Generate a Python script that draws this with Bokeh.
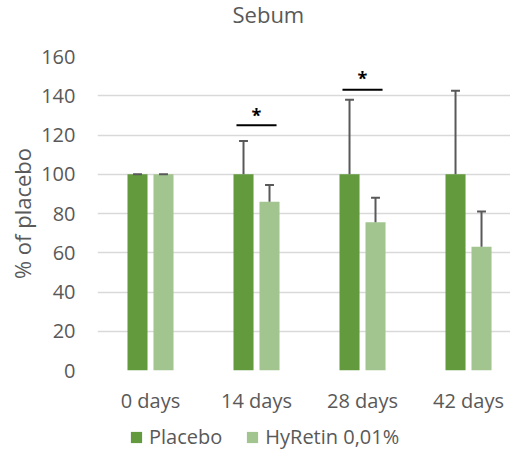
from bokeh.plotting import figure
from bokeh.layouts import column
from bokeh.models import Range1d, ColumnDataSource, Legend, LegendItem, FixedTicker
from bokeh.transform import dodge
from bokeh.core.properties import value
from bokeh.embed import file_html
from bokeh.resources import INLINE

# ---- data ----
title_text = "Sebum"
categories = ["0 days", "14 days", "28 days", "42 days"]
placebo = [100, 100, 100, 100]
placebo_err = [0, 17, 38, 42.5]
hyretin = [100, 86, 75.5, 63]
hyretin_err = [0, 8.5, 12.5, 18]
sig_categories = ["14 days", "28 days"]
sig_line_y = [125, 143]
sig_star_y = [130, 149]
y_ticks = [0, 20, 40, 60, 80, 100, 120, 140, 160]
series_names = ["Placebo", "HyRetin 0,01%"]

FONT = "Open Sans"
TXT = "#595959"
DARK = "#629A3D"
LIGHT = "#A2C48F"

OFF = 0.1226
BW = 0.189
CAP = 0.042
SIGW = 0.189

x_idx = list(range(len(categories)))
src = ColumnDataSource(dict(
    x=x_idx,
    placebo=placebo,
    placebo_top=[v + e for v, e in zip(placebo, placebo_err)],
    hyretin=hyretin,
    hyretin_top=[v + e for v, e in zip(hyretin, hyretin_err)],
))
sig = ColumnDataSource(dict(x=[categories.index(c) for c in sig_categories],
                            line_y=sig_line_y, star_y=sig_star_y,
                            star=["*"] * len(sig_categories)))

# title strip (pixel-scaled ranges so the title sits where the reference has it)
tf = figure(width=510, height=40, output_backend="svg", toolbar_location=None,
            x_range=Range1d(0, 413), y_range=Range1d(0, 40),
            x_axis_type=None, y_axis_type=None,
            min_border_left=97, min_border_right=0, min_border_top=0, min_border_bottom=0)
tf.outline_line_color = None
tf.text(x=[135], y=[27], text=[title_text], text_align="left", text_baseline="alphabetic",
        text_font=value(FONT), text_font_size="22px", text_color=TXT)

p = figure(x_range=Range1d(-0.5, 3.396), y_range=Range1d(0, 160),
           width=510, height=376, output_backend="svg", toolbar_location=None,
           min_border_left=97, min_border_right=0, min_border_top=16, min_border_bottom=45)
p.outline_line_color = None
p.background_fill_color = "white"

# bars
r1 = p.vbar(x=dodge("x", -OFF), top="placebo", bottom=0, width=BW,
            source=src, fill_color=DARK, line_color=None)
r2 = p.vbar(x=dodge("x", OFF), top="hyretin", bottom=0, width=BW,
            source=src, fill_color=LIGHT, line_color=None)

# error bars (upper only)
for off, base, top in [(-OFF, "placebo", "placebo_top"), (OFF, "hyretin", "hyretin_top")]:
    p.segment(x0=dodge("x", off), x1=dodge("x", off),
              y0=base, y1=top, source=src, line_color=TXT, line_width=2)
    p.segment(x0=dodge("x", off - CAP), x1=dodge("x", off + CAP),
              y0=top, y1=top, source=src, line_color=TXT, line_width=2)

# significance markers
p.segment(x0=dodge("x", -SIGW), x1=dodge("x", SIGW),
          y0="line_y", y1="line_y", source=sig, line_color="black", line_width=2)
p.text(x="x", y="star_y", text="star", source=sig, text_align="center",
       text_baseline="middle", text_font=value(FONT), text_font_size="18px",
       text_color="black", text_font_style="bold")

# axes
p.yaxis.ticker = FixedTicker(ticks=y_ticks)
p.xaxis.ticker = FixedTicker(ticks=x_idx)
p.xaxis.major_label_overrides = {i: c for i, c in zip(x_idx, categories)}
for ax in (p.xaxis[0], p.yaxis[0]):
    ax.axis_line_color = None
    ax.major_tick_line_color = None
    ax.minor_tick_line_color = None
    ax.major_tick_out = 0
    ax.major_tick_in = 0
    ax.minor_tick_out = 0
    ax.minor_tick_in = 0
    ax.major_label_text_font = FONT
    ax.major_label_text_font_size = "20px"
    ax.major_label_text_color = TXT
p.yaxis.major_label_standoff = 22
p.xaxis.major_label_standoff = 16
p.yaxis.axis_label = "% of placebo"
p.yaxis.axis_label_text_font = FONT
p.yaxis.axis_label_text_font_size = "22px"
p.yaxis.axis_label_text_font_style = "normal"
p.yaxis.axis_label_text_color = TXT
p.yaxis.axis_label_standoff = 1

p.xgrid.grid_line_color = None
p.ygrid.grid_line_color = "#D9D9D9"
p.ygrid.grid_line_width = 1.5

# legend strip (separate figure; its swatch renderers lie outside its view)
lg = figure(width=510, height=35, output_backend="svg", toolbar_location=None,
            x_range=Range1d(10, 11), y_range=Range1d(1000, 1001),
            x_axis_type=None, y_axis_type=None,
            min_border_left=0, min_border_right=0, min_border_top=0, min_border_bottom=0)
lg.outline_line_color = None
l1 = lg.vbar(x="x", top="placebo", bottom=0, width=BW, source=src, fill_color=DARK, line_color=None)
l2 = lg.vbar(x="x", top="hyretin", bottom=0, width=BW, source=src, fill_color=LIGHT, line_color=None)
legend = Legend(items=[LegendItem(label=series_names[0], renderers=[l1]),
                       LegendItem(label=series_names[1], renderers=[l2])],
                orientation="horizontal", location=(32, 1),
                glyph_width=14, glyph_height=14, label_standoff=6, spacing=23,
                padding=0, margin=0, border_line_alpha=0, background_fill_alpha=0,
                label_text_font=FONT, label_text_font_size="20px", label_text_color=TXT)
lg.add_layout(legend, "center")

layout = column(tf, p, lg, spacing=0)
open("out.html", "w").write(file_html(layout, INLINE))
